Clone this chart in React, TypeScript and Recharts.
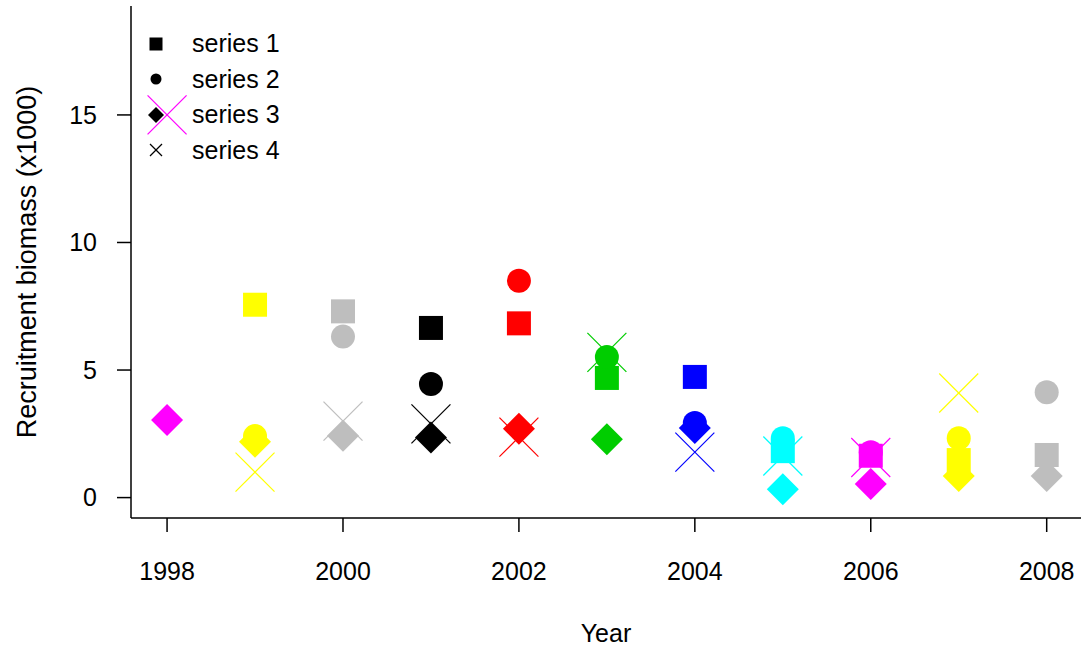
import React from 'react'
import { ScatterChart, Scatter, XAxis, YAxis, Legend } from 'recharts'

const years = [1998, 1999, 2000, 2001, 2002, 2003, 2004, 2005, 2006, 2007, 2008]
const yearColors = [
  '#FF00FF', '#FFFF00', '#BEBEBE', '#000000', '#FF0000', '#00CD00',
  '#0000FF', '#00FFFF', '#FF00FF', '#FFFF00', '#BEBEBE',
]

// values (x1000), null = no point
const series1 = [null, 7.56, 7.3, 6.65, 6.83, 4.69, 4.73, 1.82, 1.64, 1.47, 1.67]
const series2 = [null, 2.41, 6.31, 4.45, 8.5, 5.51, 2.92, 2.33, 1.78, 2.33, 4.13]
const series3 = [3.04, 2.19, 2.42, 2.36, 2.7, 2.29, 2.73, 0.33, 0.53, 0.85, 0.85]
const series4 = [15.0, 1.0, 3.0, 2.89, 2.37, 5.69, 1.78, 1.63, 1.57, 4.1, null]

const seriesNames = ['series 1', 'series 2', 'series 3', 'series 4']
const xTicks = [1998, 2000, 2002, 2004, 2006, 2008]
const yTicks = [0, 5, 10, 15]

const FONT = '"Liberation Sans", Arial, sans-serif'

function toPoints(values: (number | null)[]) {
  return values
    .map((v, i) => ({ x: years[i], y: v, color: yearColors[i] }))
    .filter((d) => d.y !== null)
}

type Kind = 'square' | 'circle' | 'diamond' | 'cross'

function Marker({ kind, cx, cy, color, s }: { kind: Kind; cx: number; cy: number; color: string; s: number }) {
  if (kind === 'square') {
    return <rect x={cx - s / 2} y={cy - s / 2} width={s} height={s} fill={color} />
  }
  if (kind === 'circle') {
    return <circle cx={cx} cy={cy} r={s / 2} fill={color} />
  }
  if (kind === 'diamond') {
    const h = s / 2
    return <polygon points={`${cx},${cy - h} ${cx + h},${cy} ${cx},${cy + h} ${cx - h},${cy}`} fill={color} />
  }
  const h = s / 2
  return (
    <g stroke={color} strokeWidth={1.2}>
      <line x1={cx - h} y1={cy - h} x2={cx + h} y2={cy + h} />
      <line x1={cx - h} y1={cy + h} x2={cx + h} y2={cy - h} />
    </g>
  )
}

const plotSizes: Record<Kind, number> = { square: 24, circle: 24, diamond: 32, cross: 39 }
const legendSizes: Record<Kind, number> = { square: 13, circle: 11, diamond: 16, cross: 12 }
const kinds: Kind[] = ['square', 'circle', 'diamond', 'cross']

const shapeFor = (kind: Kind) => (p: any) => (
  <Marker kind={kind} cx={p.cx} cy={p.cy} color={p.payload.color} s={plotSizes[kind]} />
)

const LegendBox = () => (
  <div style={{ fontFamily: FONT, fontSize: 25, color: '#000' }}>
    {seriesNames.map((name, i) => (
      <div key={name} style={{ display: 'flex', alignItems: 'center', height: 35.5 }}>
        <svg width={32} height={32} style={{ marginRight: 20 }}>
          <Marker kind={kinds[i]} cx={16} cy={16} color="#000" s={legendSizes[kinds[i]]} />
        </svg>
        <span>{name}</span>
      </div>
    ))}
  </div>
)

export default function App() {
  const data = [series1, series2, series3, series4].map(toPoints)

  return (
    <div style={{ position: 'absolute', left: 0, top: 0, width: 1081, height: 649, background: '#fff', fontFamily: FONT }}>
      <ScatterChart width={1081} height={649} margin={{ top: 6, right: 0, bottom: 0, left: 0 }}>
        <XAxis
          type="number"
          dataKey="x"
          domain={[1997.59, 2008.39]}
          ticks={xTicks}
          allowDataOverflow
          height={131}
          stroke="#000"
          strokeWidth={1.5}
          tickSize={14}
          tickMargin={30}
          tick={{ fill: '#000', fontSize: 25, fontFamily: FONT }}
          label={{ value: 'Year', position: 'center', dy: 50, fill: '#000', fontSize: 25, fontFamily: FONT }}
        />
        <YAxis
          type="number"
          dataKey="y"
          domain={[-0.8, 19.27]}
          ticks={yTicks}
          allowDataOverflow
          width={131}
          stroke="#000"
          strokeWidth={1.5}
          tickSize={14}
          tickMargin={20}
          tick={{ fill: '#000', fontSize: 25, fontFamily: FONT }}
          label={{
            value: 'Recruitment biomass (x1000)',
            angle: -90,
            position: 'center',
            dx: -39,
            fill: '#000',
            fontSize: 27,
            fontFamily: FONT,
          }}
        />
        <Legend
          content={<LegendBox />}
          layout="vertical"
          align="center"
          verticalAlign="middle"
          wrapperStyle={{ left: 140, top: 26, width: 200 }}
        />
        {data.map((pts, i) => (
          <Scatter
            key={seriesNames[i]}
            name={seriesNames[i]}
            data={pts}
            shape={shapeFor(kinds[i])}
            isAnimationActive={false}
          />
        ))}
      </ScatterChart>
    </div>
  )
}
